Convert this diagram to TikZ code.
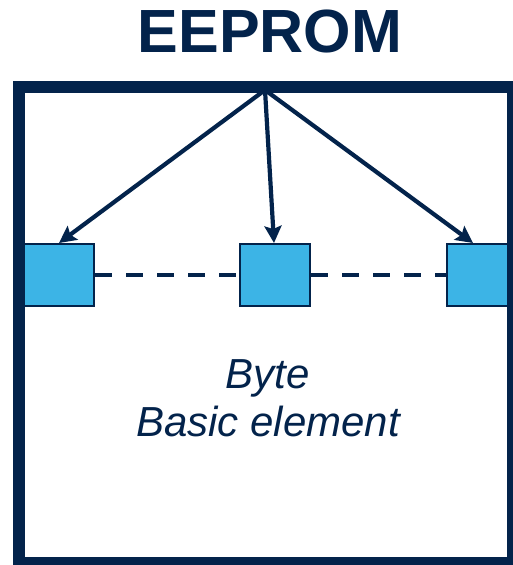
\documentclass[tikz,border=0pt]{standalone}
\usepackage{fontspec}
\setmainfont{Liberation Sans}
\usetikzlibrary{arrows.meta}
\definecolor{stnavy}{HTML}{03234B}
\definecolor{stblue}{HTML}{3CB4E6}
\tikzset{
  bytebox/.style={draw=stnavy,fill=stblue,line width=2pt,minimum width=70pt,minimum height=62pt,inner sep=0pt},
  arr/.style={-{Stealth[length=17pt,width=17pt,inset=3pt]},stnavy,line width=4.2pt},
  link/.style={stnavy,line width=3.8pt,dash pattern=on 17pt off 14pt}
}
\begin{document}
\begin{tikzpicture}[x=1pt,y=-1pt]
  \useasboundingbox (0,0) rectangle (513,565);
  \clip (0,0) rectangle (513,565);
  \node[text=stnavy,font=\fontsize{61}{61}\selectfont\bfseries] (title) at (270,31) {EEPROM};
  % bytes
  \foreach \nm/\x in {lb/59,mb/275,rb/482}
    \node[bytebox] (\nm) at (\x,275) {};
  \draw[link] (lb.east) -- (mb.west);
  \draw[link] (mb.east) -- (rb.west);
  % memory frame
  \draw[stnavy,line width=12pt] (19,87) rectangle (513,563);
  \coordinate (top) at (265,90);
  \foreach \tgt/\dx in {lb/0,mb/-1,rb/-9}
    \draw[arr] (top) -- ([xshift=\dx pt]\tgt.north);
  \node[text=stnavy,align=center,font=\fontsize{42}{48}\selectfont\itshape] (lbl) at (268,398) {Byte\\Basic element};
\end{tikzpicture}
\end{document}
